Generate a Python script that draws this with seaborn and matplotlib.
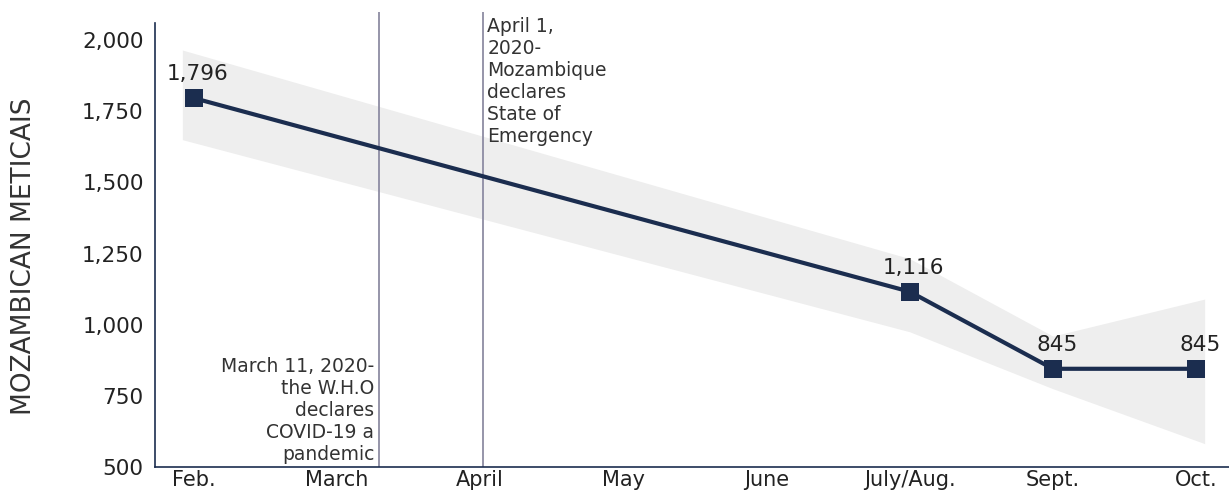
import numpy as np
import pandas as pd
import matplotlib
matplotlib.use("Agg")
import matplotlib.pyplot as plt
import seaborn as sns

# data
months = ["Feb.", "March", "April", "May", "June", "July/Aug.", "Sept.", "Oct."]
point_months = ["Feb.", "July/Aug.", "Sept.", "Oct."]
prices = [1796, 1116, 845, 845]
band_low = [1650, 975, 775, 582]
band_high = [1965, 1232, 960, 1090]
yticks = [500, 750, 1000, 1250, 1500, 1750, 2000]

event_pos = [1.29, 2.02]   # March 11 and April 1 on the month axis
event_text = ["March 11, 2020-\nthe W.H.O\ndeclares\nCOVID-19 a\npandemic",
              "April 1,\n2020-\nMozambique\ndeclares\nState of\nEmergency"]

navy = "#1b2d4f"
sns.set_style("white")
plt.rcParams["font.family"] = ["DejaVu Sans"]

df = pd.DataFrame({"month": point_months, "price": prices,
                   "low": band_low, "high": band_high})
df["x"] = [months.index(m) for m in df["month"]]

fig = plt.figure(figsize=(12.29, 4.96), dpi=100)
ax = fig.add_axes([0.126, 0.0585, 0.874, 0.917])

# shaded range, a little wider than the first/last point
bx = df["x"].to_numpy(dtype=float)
bx[0] -= 0.08
bx[-1] += 0.06
ax.fill_between(bx, df["low"], df["high"], color="#eeeeee", lw=0, zorder=1)

for xv in event_pos:
    ax.axvline(xv, color="#8d8ca3", lw=1.3, zorder=2)

sns.lineplot(data=df, x="x", y="price", ax=ax, color=navy, lw=3,
             marker="s", markersize=13, markeredgewidth=0, zorder=3)

for xv, yv in zip(df["x"], df["price"]):
    ax.annotate(f"{yv:,}", (xv, yv), xytext=(3, 10), textcoords="offset points",
                ha="center", va="bottom", fontsize=15.5, color="#222222")

ax.text(event_pos[0] - 0.03, 512, event_text[0], ha="right", va="bottom",
        fontsize=13.5, color="#333333", linespacing=1.2)
ax.text(event_pos[1] + 0.03, 2080, event_text[1], ha="left", va="top",
        fontsize=13.5, color="#333333", linespacing=1.2)

ax.set_xlim(-0.272, 7.23)
ax.set_ylim(500, 2098)
ax.set_xticks(range(len(months)))
ax.set_xticklabels(months)
ax.set_yticks(yticks)
ax.set_yticklabels([f"{v:,}" for v in yticks])
ax.tick_params(axis="both", length=0, colors="#222222")
ax.tick_params(axis="y", pad=8, labelsize=15.5)
ax.tick_params(axis="x", pad=2, labelsize=15)

ax.set_xlabel("")
ax.set_ylabel("MOZAMBICAN METICAIS", fontsize=19, color="#333333")
ax.yaxis.set_label_coords(-0.11, 0.463)

for s in ["top", "right"]:
    ax.spines[s].set_visible(False)
for s in ["left", "bottom"]:
    ax.spines[s].set_color(navy)
    ax.spines[s].set_linewidth(1.2)
ax.spines["left"].set_bounds(500, 2060)

fig.savefig("out.png", dpi=100)
